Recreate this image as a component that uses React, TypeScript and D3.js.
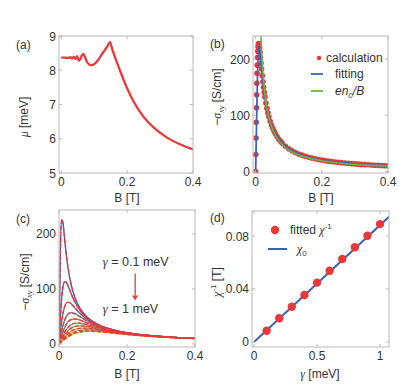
import React from "react";
import * as d3 from "d3";

const FONT = "'Liberation Sans', Arial, Helvetica, sans-serif";
const RED = "#e8383a";
const BLUE = "#3c62b4";
const GREEN = "#66b846";
const FRAME = "#b8b8b8";
const INK = "#333";

// (a) chemical potential vs field
const muB = [0, 0.01, 0.02, 0.028, 0.033, 0.038, 0.043, 0.048, 0.053, 0.058, 0.063, 0.067, 0.072, 0.078, 0.085, 0.092, 0.1, 0.11, 0.12, 0.13, 0.14, 0.148, 0.155, 0.165, 0.178, 0.19, 0.2, 0.22, 0.25, 0.28, 0.32, 0.36, 0.4];
const muVal = [8.37, 8.37, 8.36, 8.38, 8.34, 8.4, 8.33, 8.41, 8.28, 8.33, 8.44, 8.48, 8.38, 8.24, 8.17, 8.15, 8.18, 8.28, 8.42, 8.56, 8.7, 8.82, 8.6, 8.33, 8.0, 7.7, 7.47, 7.08, 6.64, 6.33, 6.04, 5.84, 5.69];

// (b) calculation points, fit and en0/B
const calcB = [0, 0.0006, 0.0012, 0.0018, 0.0024, 0.003, 0.0036, 0.0042, 0.0048, 0.0055, 0.0063, 0.0072, 0.0082, 0.0093, 0.0105, 0.0118, 0.0132, 0.0147, 0.0163, 0.018, 0.02, 0.022, 0.024, 0.026, 0.028, 0.031, 0.034, 0.037, 0.04, 0.044, 0.048, 0.052, 0.056, 0.06, 0.065, 0.07, 0.075, 0.08, 0.09, 0.1, 0.11, 0.12, 0.13, 0.14, 0.15, 0.16, 0.17, 0.18, 0.19, 0.2, 0.21, 0.22, 0.23, 0.24, 0.25, 0.26, 0.27, 0.28, 0.29, 0.3, 0.31, 0.32, 0.33, 0.34, 0.35, 0.36, 0.37, 0.38, 0.39, 0.4];
const calcSigma = [0, 30.2, 59.7, 87.6, 113.4, 136.7, 157.1, 174.6, 189.2, 202.7, 214.0, 222.2, 226.8, 227.7, 225.1, 219.7, 212.0, 202.9, 192.8, 182.2, 170.5, 159.6, 149.8, 140.8, 132.7, 122.0, 112.7, 104.6, 97.6, 89.4, 82.5, 76.6, 71.4, 66.8, 61.9, 57.6, 53.9, 50.6, 45.1, 40.7, 37.0, 34.0, 31.4, 29.2, 27.2, 25.5, 24.1, 22.7, 21.5, 20.5, 19.5, 18.6, 17.8, 17.1, 16.4, 15.8, 15.2, 14.6, 14.1, 13.7, 13.2, 12.8, 12.4, 12.1, 11.7, 11.4, 11.1, 10.8, 10.5, 10.2];
const fitB = [0, 0.0105, 0.012, 0.015, 0.02, 0.03, 0.04, 0.06, 0.08, 0.1, 0.15, 0.2, 0.3, 0.4];
const fitSigma = [0, 226, 218.7, 201, 170.5, 125.4, 97.6, 66.8, 50.6, 40.7, 27.2, 20.5, 13.7, 10.2];
const drudeB = [0.0158, 0.018, 0.02, 0.025, 0.03, 0.035, 0.04, 0.05, 0.06, 0.07, 0.08, 0.1, 0.12, 0.15, 0.2, 0.25, 0.3, 0.35, 0.4];
const drudeSigma = [243.7, 213.9, 192.5, 154, 128.3, 110, 96.3, 77, 64.2, 55, 48.1, 38.5, 32.1, 25.7, 19.3, 15.4, 12.8, 11, 9.6];

// (c) curves for gamma = 0.1 ... 1 meV on a shared field grid
const gammaC = [0.1, 0.2, 0.3, 0.4, 0.5, 0.6, 0.7, 0.8, 0.9, 1.0];
const gridC = [0, 0.004, 0.008, 0.012, 0.016, 0.02, 0.025, 0.03, 0.035, 0.04, 0.05, 0.06, 0.07, 0.08, 0.09, 0.1, 0.12, 0.14, 0.17, 0.2, 0.25, 0.3, 0.35, 0.4];
const sigmaC = [
  [0, 169.1, 226.2, 218.7, 194.7, 170.5, 145.2, 125.4, 109.9, 97.6, 79.4, 66.8, 57.6, 50.6, 45.1, 40.7, 34.0, 29.2, 24.1, 20.5, 16.4, 13.7, 11.7, 10.2],
  [0, 48.2, 84.5, 105.1, 113.1, 113.3, 108.0, 100.5, 92.6, 85.2, 72.6, 62.7, 54.9, 48.8, 43.8, 39.7, 33.4, 28.8, 23.9, 20.3, 16.3, 13.6, 11.7, 10.2],
  [0, 22.0, 41.4, 56.4, 66.6, 72.6, 75.7, 75.5, 73.4, 70.4, 63.5, 56.8, 51.0, 46.0, 41.8, 38.2, 32.5, 28.2, 23.5, 20.1, 16.2, 13.6, 11.6, 10.2],
  [0, 12.5, 24.1, 34.2, 42.3, 48.3, 53.4, 56.0, 56.9, 56.6, 54.0, 50.2, 46.3, 42.6, 39.3, 36.3, 31.3, 27.5, 23.1, 19.9, 16.1, 13.5, 11.6, 10.2],
  [0, 8.0, 15.7, 22.7, 28.8, 33.8, 38.7, 42.1, 44.2, 45.2, 45.3, 43.7, 41.4, 38.9, 36.4, 34.1, 30.0, 26.5, 22.5, 19.5, 15.9, 13.4, 11.5, 10.1],
  [0, 5.6, 11.0, 16.1, 20.7, 24.7, 28.9, 32.2, 34.7, 36.3, 37.9, 37.8, 36.7, 35.2, 33.5, 31.7, 28.4, 25.5, 21.9, 19.1, 15.7, 13.2, 11.4, 10.1],
  [0, 4.2, 8.4, 12.3, 16.0, 19.3, 22.9, 25.9, 28.3, 30.1, 32.3, 33.0, 32.8, 32.0, 30.9, 29.6, 27.0, 24.5, 21.3, 18.7, 15.4, 13.1, 11.4, 10.0],
  [0, 3.2, 6.4, 9.5, 12.4, 15.1, 18.1, 20.7, 22.9, 24.7, 27.2, 28.5, 28.9, 28.7, 28.1, 27.3, 25.3, 23.3, 20.5, 18.2, 15.2, 12.9, 11.3, 9.9],
  [0, 2.6, 5.1, 7.5, 9.9, 12.1, 14.6, 16.8, 18.8, 20.5, 23.0, 24.6, 25.4, 25.6, 25.4, 25.0, 23.7, 22.1, 19.7, 17.7, 14.9, 12.8, 11.1, 9.9],
  [0, 2.1, 4.2, 6.2, 8.2, 10.1, 12.2, 14.2, 16.0, 17.6, 20.0, 21.7, 22.7, 23.2, 23.3, 23.1, 22.2, 21.0, 19.0, 17.2, 14.6, 12.6, 11.0, 9.8],
];

// (d) fitted inverse chi vs gamma
const gammaD = [0.1, 0.2, 0.3, 0.4, 0.5, 0.6, 0.7, 0.8, 0.9, 1.0];
const chiInvD = [0.0085, 0.0179, 0.0266, 0.0355, 0.0448, 0.0538, 0.0626, 0.0715, 0.0802, 0.089];
const chi0Gamma = [0, 1.071];
const chi0Val = [0, 0.0945];

type Lin = d3.ScaleLinear<number, number>;

function Frame({ x, y, xTicks, yTicks, xFmt, yFmt }: { x: Lin; y: Lin; xTicks: number[]; yTicks: number[]; xFmt: (v: number) => string; yFmt: (v: number) => string }) {
  const [x0, x1] = x.range();
  const [y0, y1] = y.range();
  return (
    <g>
      <rect x={x0} y={y1} width={x1 - x0} height={y0 - y1} fill="none" stroke={FRAME} strokeWidth={1} />
      {xTicks.map((t) => (
        <g key={"x" + t}>
          <line x1={x(t)} x2={x(t)} y1={y0} y2={y0 - 3} stroke={FRAME} />
          <line x1={x(t)} x2={x(t)} y1={y1} y2={y1 + 3} stroke={FRAME} />
          <text x={x(t)} y={y0 + 13} textAnchor="middle" fontSize={12} fill={INK}>{xFmt(t)}</text>
        </g>
      ))}
      {yTicks.map((t) => (
        <g key={"y" + t}>
          <line x1={x0} x2={x0 + 3} y1={y(t)} y2={y(t)} stroke={FRAME} />
          <line x1={x1} x2={x1 - 3} y1={y(t)} y2={y(t)} stroke={FRAME} />
          <text x={x0 - 3} y={y(t) + 4.5} textAnchor="end" fontSize={12} fill={INK}>{yFmt(t)}</text>
        </g>
      ))}
    </g>
  );
}

const fmtB = (v: number) => (v === 0 ? "0" : String(v));

function SigmaLabel({ x, y }: { x: number; y: number }) {
  return (
    <text transform={`translate(${x},${y}) rotate(-90)`} textAnchor="middle" fontSize={12} fill={INK}>
      −<tspan fontStyle="italic" fontFamily="'Liberation Serif', serif">σ</tspan>
      <tspan fontStyle="italic" fontFamily="'Liberation Serif', serif" fontSize={8} dy={3}>xy</tspan>
      <tspan dy={-3}> [S/cm]</tspan>
    </text>
  );
}

export default function App() {
  // panel (a)
  const xa = d3.scaleLinear().domain([-0.007, 0.4]).range([59, 193]);
  const ya = d3.scaleLinear().domain([5, 9]).range([173, 36]);
  const lineA = d3.line<number>().x((_, i) => xa(muB[i])).y((d) => ya(d)).curve(d3.curveMonotoneX);

  // panel (b)
  const xb = d3.scaleLinear().domain([-0.008, 0.4]).range([253, 388]);
  const yb = d3.scaleLinear().domain([-2.5, 241]).range([173, 36]);
  const fitLine = d3.line<number>().x((_, i) => xb(fitB[i])).y((d) => yb(d)).curve(d3.curveMonotoneX);
  const drudeLine = d3.line<number>().x((_, i) => xb(drudeB[i])).y((d) => yb(d)).curve(d3.curveMonotoneX);

  // panel (c)
  const xc = d3.scaleLinear().domain([0, 0.4]).range([59, 195]);
  const yc = d3.scaleLinear().domain([-5.5, 243.6]).range([347, 210]);
  const lineC = d3.line<number>().x((_, i) => xc(gridC[i])).y((d) => yc(d)).curve(d3.curveMonotoneX);
  const dashColor = d3.scaleLinear<string>().domain([0, gammaC.length - 1]).range(["#3450c4", "#c4d23c"]).interpolate(d3.interpolateRgb);

  // panel (d)
  const xd = d3.scaleLinear().domain([-0.016, 1.071]).range([252, 389]);
  const yd = d3.scaleLinear().domain([-0.0038, 0.0989]).range([347, 211]);
  const chiLine = d3.line<number>().x((_, i) => xd(chi0Gamma[i])).y((d) => yd(d));

  const clip = (id: string, x: Lin, y: Lin) => {
    const [x0, x1] = x.range();
    const [y0, y1] = y.range();
    return (
      <clipPath id={id}>
        <rect x={x0} y={y1} width={x1 - x0} height={y0 - y1} />
      </clipPath>
    );
  };

  const arrowX = xc(0.224);

  return (
    <svg width={408} height={390} style={{ position: "absolute", left: 0, top: 0, background: "#fff" }} fontFamily={FONT}>
      <defs>
        {clip("ca", xa, ya)}
        {clip("cb", xb, yb)}
        {clip("cc", xc, yc)}
        {clip("cd", xd, yd)}
      </defs>

      {/* (a) */}
      <g clipPath="url(#ca)">
        <path d={lineA(muVal) ?? ""} fill="none" stroke={RED} strokeWidth={2.3} strokeLinejoin="round" />
      </g>
      <Frame x={xa} y={ya} xTicks={[0, 0.2, 0.4]} yTicks={[5, 6, 7, 8, 9]} xFmt={fmtB} yFmt={String} />
      <text x={16} y={49} fontSize={12} fill={INK}>(a)</text>
      <text transform="translate(28,117) rotate(-90)" textAnchor="middle" fontSize={12} fill={INK}>
        <tspan fontStyle="italic" fontFamily="'Liberation Serif', serif">μ</tspan> [meV]
      </text>
      <text x={127} y={202} textAnchor="middle" fontSize={12} fill={INK}>B [T]</text>

      {/* (b) */}
      <g clipPath="url(#cb)">
        {calcSigma.map((s, i) => (
          <circle key={i} cx={xb(calcB[i])} cy={yb(s)} r={2.8} fill={RED} />
        ))}
        <path d={fitLine(fitSigma) ?? ""} fill="none" stroke={BLUE} strokeWidth={1.8} />
        <path d={drudeLine(drudeSigma) ?? ""} fill="none" stroke={GREEN} strokeWidth={1.6} />
      </g>
      <Frame x={xb} y={yb} xTicks={[0, 0.2, 0.4]} yTicks={[0, 100, 200]} xFmt={fmtB} yFmt={String} />
      <text x={210} y={48} fontSize={12} fill={INK}>(b)</text>
      <SigmaLabel x={221} y={97} />
      <text x={321} y={202} textAnchor="middle" fontSize={12} fill={INK}>B [T]</text>
      <circle cx={319} cy={58} r={2.2} fill={RED} />
      <text x={326} y={62} fontSize={12} fill={INK}>calculation</text>
      <line x1={311} x2={323} y1={74} y2={74} stroke={BLUE} strokeWidth={1.8} />
      <text x={335} y={78} fontSize={12} fill={INK}>fitting</text>
      <line x1={311} x2={323} y1={91} y2={91} stroke={GREEN} strokeWidth={1.8} />
      <text x={335} y={95} fontSize={12} fill={INK} fontStyle="italic">
        en<tspan fontSize={8} dy={3}>0</tspan><tspan dy={-3}>/B</tspan>
      </text>

      {/* (c) */}
      <g clipPath="url(#cc)">
        {sigmaC.map((s, i) => (
          <path key={"s" + i} d={lineC(s) ?? ""} fill="none" stroke={dashColor(i)} strokeWidth={1.3} />
        ))}
        {sigmaC.map((s, i) => (
          <path key={"r" + i} d={lineC(s) ?? ""} fill="none" stroke={RED} strokeWidth={1.3} strokeDasharray="4 2" />
        ))}
      </g>
      <Frame x={xc} y={yc} xTicks={[0, 0.2, 0.4]} yTicks={[0, 100, 200]} xFmt={fmtB} yFmt={String} />
      <text x={16} y={223} fontSize={12} fill={INK}>(c)</text>
      <SigmaLabel x={29} y={282} />
      <text x={127} y={378} textAnchor="middle" fontSize={12} fill={INK}>B [T]</text>
      <text x={xc(0.129)} y={yc(141)} fontSize={12.5} fill={INK}>
        <tspan fontStyle="italic" fontFamily="'Liberation Serif', serif">γ</tspan> = {gammaC[0]} meV
      </text>
      <line x1={arrowX} x2={arrowX} y1={yc(128)} y2={yc(88)} stroke={RED} strokeWidth={1.3} />
      <path d={`M${arrowX - 3},${yc(88)} L${arrowX + 3},${yc(88)} L${arrowX},${yc(79)} Z`} fill={RED} />
      <text x={xc(0.129)} y={yc(57)} fontSize={12.5} fill={INK}>
        <tspan fontStyle="italic" fontFamily="'Liberation Serif', serif">γ</tspan> = {gammaC[gammaC.length - 1]} meV
      </text>

      {/* (d) */}
      <g clipPath="url(#cd)">
        <path d={chiLine(chi0Val) ?? ""} fill="none" stroke={BLUE} strokeWidth={2} />
        {chiInvD.map((v, i) => (
          <circle key={i} cx={xd(gammaD[i])} cy={yd(v)} r={4.2} fill={RED} />
        ))}
      </g>
      <Frame x={xd} y={yd} xTicks={[0, 0.5, 1]} yTicks={[0, 0.04, 0.08]} xFmt={(v) => String(v)} yFmt={(v) => String(v)} />
      <text x={210} y={222} fontSize={12} fill={INK}>(d)</text>
      <text transform="translate(221,282) rotate(-90)" textAnchor="middle" fontSize={12} fill={INK}>
        <tspan fontStyle="italic" fontFamily="'Liberation Serif', serif">χ</tspan>
        <tspan fontSize={8} dy={-5}>-1</tspan>
        <tspan dy={5}> [T]</tspan>
      </text>
      <text x={320} y={378} textAnchor="middle" fontSize={12} fill={INK}>
        <tspan fontStyle="italic" fontFamily="'Liberation Serif', serif">γ</tspan> [meV]
      </text>
      <circle cx={275} cy={230} r={4.2} fill={RED} />
      <text x={290} y={234} fontSize={12} fill={INK}>
        fitted <tspan fontStyle="italic" fontFamily="'Liberation Serif', serif">χ</tspan>
        <tspan fontSize={8} dy={-5}>-1</tspan>
      </text>
      <line x1={268} x2={287} y1={249} y2={249} stroke={BLUE} strokeWidth={2} />
      <text x={297} y={253} fontSize={12} fill={INK}>
        <tspan fontStyle="italic" fontFamily="'Liberation Serif', serif">χ</tspan>
        <tspan fontSize={8} dy={3}>0</tspan>
      </text>
    </svg>
  );
}
